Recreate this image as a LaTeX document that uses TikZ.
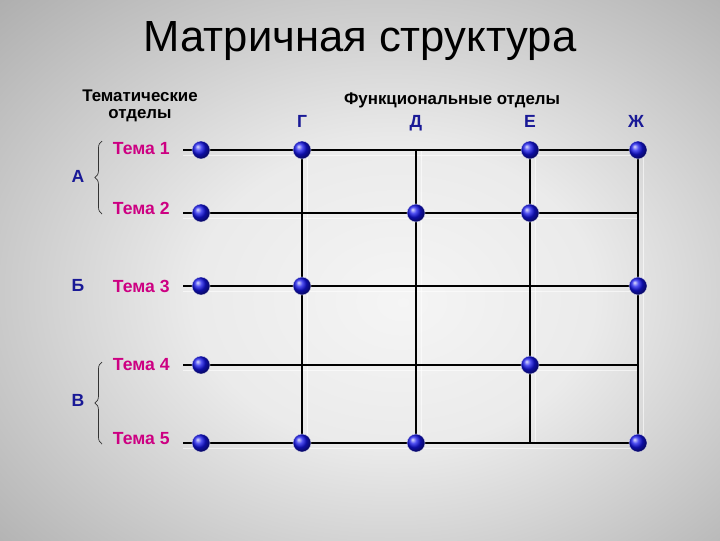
\documentclass[tikz,border=0pt]{standalone}
\usepackage{fontspec}
\setmainfont{Liberation Sans}
\usetikzlibrary{shadings,decorations.pathreplacing}

\definecolor{temapink}{RGB}{205,0,130}
\definecolor{deptblue}{RGB}{25,25,150}
\definecolor{ballblue}{RGB}{20,20,235}

\pgfdeclareradialshading{slide}{\pgfpoint{3bp}{-3bp}}{%
  color(0bp)=(black!4); color(14bp)=(black!8); color(50bp)=(black!44); color(72bp)=(black!56)}

\begin{document}
\begin{tikzpicture}[x=0.025cm, y=-0.025cm,
    ball/.style={circle, inner sep=0pt, minimum size=0.45cm, shading=ball,
      ball color=ballblue, draw=white, draw opacity=0.5, line width=0.5pt},
    gridline/.style={line width=2pt},
    glint/.style={white, opacity=0.6, line width=1pt},
    tema/.style={anchor=west, text=temapink, font=\bfseries\fontsize{12.5}{14}\selectfont},
    dept/.style={text=deptblue, text height=1.6ex, text depth=0.3ex,
      font=\bfseries\fontsize{12.5}{14}\selectfont},
    head/.style={align=center, font=\bfseries\fontsize{12}{15}\selectfont},
    grp/.style={decorate, decoration={brace, amplitude=5pt}, line width=0.5pt, black!80}]

    \shade[shading=slide] (0, 0) rectangle (720, 540);

    \node[font=\fontsize{31}{34}\selectfont] (title) at (360, 41) {Матричная структура};
    \node[head] (them) at (140, 106) {Тематические\\[-3pt]отделы};
    \node[head] (func) at (452, 100) {Функциональные отделы};

    % columns
    \node[dept] (G) at (302, 123) {Г};
    \node[dept] (D) at (416, 123) {Д};
    \node[dept] (E) at (530, 123) {Е};
    \node[dept] (Zh) at (636, 123) {Ж};

    % rows
    \node[tema] (tema1) at (108, 149) {Тема 1};
    \node[tema] (tema2) at (108, 208) {Тема 2};
    \node[tema] (tema3) at (108, 286) {Тема 3};
    \node[tema] (tema4) at (108, 365) {Тема 4};
    \node[tema] (tema5) at (108, 439) {Тема 5};

    \node[dept] (A) at (78, 178) {А};
    \node[dept] (B) at (78, 287) {Б};
    \node[dept] (V) at (78, 402) {В};
    \draw[grp] (102, 214) -- (102, 141);
    \draw[grp] (102, 444) -- (102, 362);

    \foreach \r/\y in {1/150, 2/213, 3/286, 4/365, 5/443} {
        \coordinate (s\r) at (183, \y);
        \coordinate (t\r) at (201, \y);
        \foreach \c/\x in {g/302, d/416, e/530, zh/638}
            \coordinate (\c\r) at (\x, \y);
    }

    \foreach \r in {1, ..., 5}
        \draw[glint] ([yshift=-4]s\r) -- ([yshift=-4]zh\r);
    \foreach \c in {g, d, e, zh}
        \draw[glint] ([xshift=4]\c1) -- ([xshift=4]\c5);

    \foreach \r in {1, ..., 5}
        \draw[gridline] (s\r) -- (zh\r);
    \foreach \c in {g, d, e, zh}
        \draw[gridline] (\c1) -- (\c5);

    \foreach \r in {1, ..., 5}
        \node[ball] (ball-t\r) at (t\r) {};
    \foreach \p in {g1, e1, zh1, d2, e2, g3, zh3, e4, g5, d5, zh5}
        \node[ball] (ball-\p) at (\p) {};
\end{tikzpicture}
\end{document}
